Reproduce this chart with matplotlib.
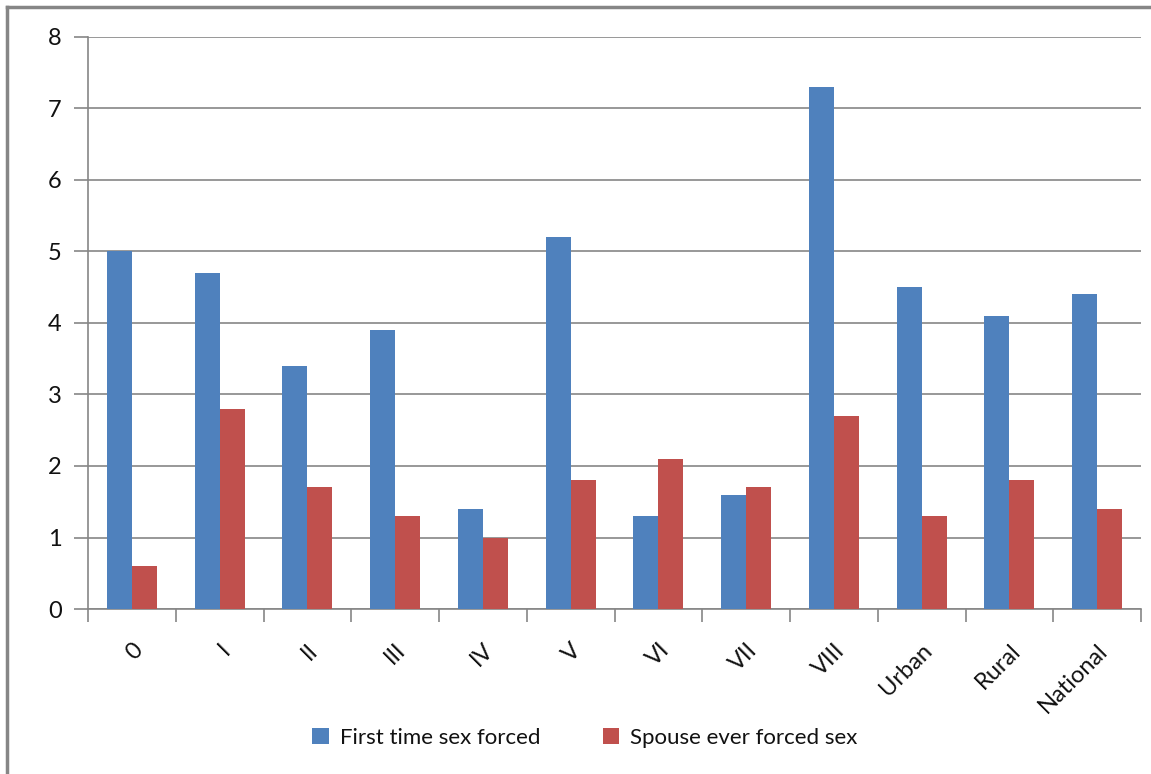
import numpy as np
import matplotlib
matplotlib.use('Agg')
import matplotlib.pyplot as plt
from matplotlib.lines import Line2D

categories = ['0', 'I', 'II', 'III', 'IV', 'V', 'VI', 'VII', 'VIII', 'Urban', 'Rural', 'National']
first_time_forced = [5.0, 4.7, 3.4, 3.9, 1.4, 5.2, 1.3, 1.6, 7.3, 4.5, 4.1, 4.4]
spouse_forced = [0.6, 2.8, 1.7, 1.3, 1.0, 1.8, 2.1, 1.7, 2.7, 1.3, 1.8, 1.4]

plt.rcParams['font.family'] = ['Lato', 'DejaVu Sans']

grey = '#868686'
blue = '#4F81BD'
red = '#C0504D'

fig = plt.figure(figsize=(11.51, 7.74), dpi=100)
ax = fig.add_axes([88 / 1151, 1 - 609 / 774, (1141 - 88) / 1151, (609 - 37) / 774])

x = np.arange(len(categories))
w = 0.285
ax.bar(x - w / 2, first_time_forced, w, color=blue, label='First time sex forced', zorder=3)
ax.bar(x + w / 2, spouse_forced, w, color=red, label='Spouse ever forced sex', zorder=3)

ax.set_xlim(-0.5, len(categories) - 0.5)
ax.set_ylim(0, 8)
ax.set_yticks(range(0, 9))
ax.yaxis.grid(True, color=grey, linewidth=1.2, zorder=0)
ax.tick_params(axis='y', length=10, width=1.2, color=grey, labelsize=17, pad=9, labelcolor='#111111')

ax.set_xticks(x)
ax.set_xticklabels(categories, rotation=45, ha='right', rotation_mode='anchor', fontsize=17, color='#111111')
ax.set_xticks(np.arange(-0.5, len(categories)), minor=True)
ax.tick_params(axis='x', which='major', length=0, pad=22)
ax.tick_params(axis='x', which='minor', length=9, width=1.2, color=grey)

for side in ['top', 'right']:
    ax.spines[side].set_visible(False)
for side in ['left', 'bottom']:
    ax.spines[side].set_color(grey)
    ax.spines[side].set_linewidth(1.2)

fig.legend(loc='center', bbox_to_anchor=(585 / 1151, 1 - 738 / 774), ncol=2, frameon=False,
           fontsize=16, handlelength=0.75, handleheight=0.75, columnspacing=2.8, handletextpad=0.5,
           labelcolor='#111111')

# chart area border (top and left visible)
fig.add_artist(Line2D([7 / 1151, 1], [1 - 7 / 774, 1 - 7 / 774], color=grey, linewidth=2.5, transform=fig.transFigure))
fig.add_artist(Line2D([7 / 1151, 7 / 1151], [0, 1 - 7 / 774], color=grey, linewidth=2.5, transform=fig.transFigure))

plt.savefig('out.png', dpi=100)
